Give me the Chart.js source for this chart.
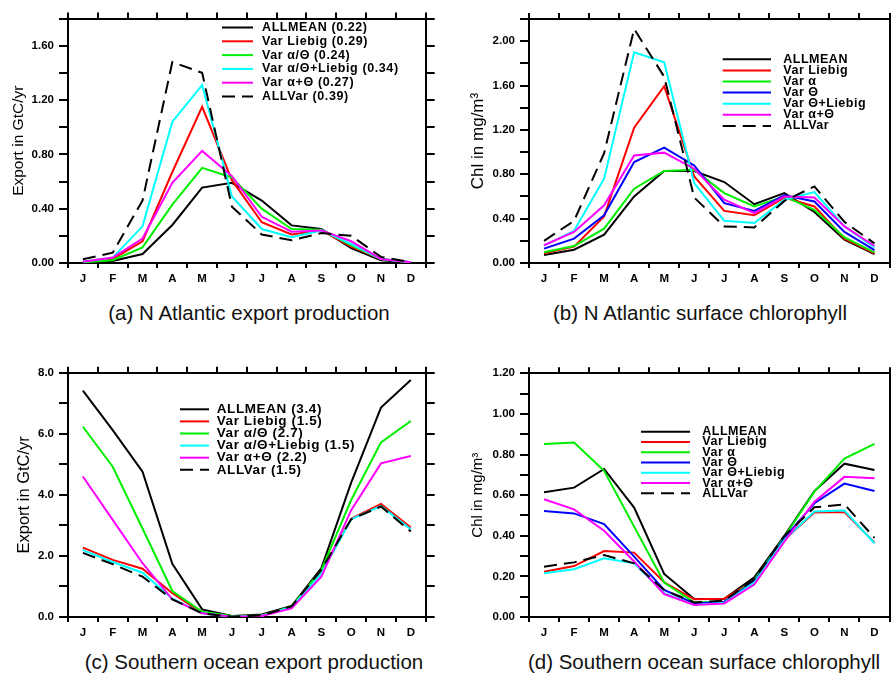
<!DOCTYPE html>
<html>
<head>
<meta charset="utf-8">
<script src="https://cdn.jsdelivr.net/npm/chart.js@4"></script>
<style>
  html, body { margin: 0; padding: 0; background: #fff; }
  body { width: 891px; height: 674px; position: relative; overflow: hidden; }
  canvas { position: absolute; }
  .ttl { position: absolute; font-family: "Liberation Sans", Arial, sans-serif; font-size: 20.5px; line-height: 24px; color: #111; text-align: center; white-space: nowrap; width: 440px; }
</style>
</head>
<body>
<canvas id="ca" width="445" height="300" style="left:0;top:0"></canvas>
<canvas id="cb" width="446" height="300" style="left:445px;top:0"></canvas>
<canvas id="cc" width="445" height="300" style="left:0;top:340px"></canvas>
<canvas id="cd" width="446" height="300" style="left:445px;top:340px"></canvas>
<div class="ttl" style="left:29px;top:301px">(a) N Atlantic export production</div>
<div class="ttl" style="left:480px;top:301px">(b) N Atlantic surface chlorophyll</div>
<div class="ttl" style="left:34px;top:650px">(c) Southern ocean export production</div>
<div class="ttl" style="left:484px;top:650px">(d) Southern ocean surface chlorophyll</div>
<script>
const months = ['J','F','M','A','M','J','J','A','S','O','N','D'];

// (a) N Atlantic export production (GtC/yr)
const aLabels = ['ALLMEAN (0.22)', 'Var Liebig (0.29)', 'Var α/Θ (0.24)', 'Var α/Θ+Liebig (0.34)', 'Var α+Θ (0.27)', 'ALLVar (0.39)'];
const aAllmean          = [0.010, 0.015, 0.066, 0.28, 0.555, 0.59, 0.46, 0.277, 0.25, 0.11, 0.02, 0.005];
const aLiebig           = [0.005, 0.030, 0.160, 0.67, 1.150, 0.61, 0.30, 0.210, 0.24, 0.12, 0.03, 0.005];
const aAlphaTheta       = [0.005, 0.020, 0.115, 0.43, 0.700, 0.63, 0.40, 0.250, 0.245, 0.13, 0.03, 0.005];
const aAlphaThetaLiebig = [0.010, 0.040, 0.270, 1.04, 1.310, 0.49, 0.25, 0.190, 0.24, 0.14, 0.03, 0.005];
const aAlphaPlusTheta   = [0.010, 0.040, 0.180, 0.59, 0.825, 0.64, 0.34, 0.230, 0.24, 0.16, 0.03, 0.005];
const aAllvar           = [0.027, 0.076, 0.460, 1.48, 1.400, 0.415, 0.21, 0.167, 0.22, 0.20, 0.045, 0.007];

// (b) N Atlantic surface chlorophyll (mg/m3)
const bLabels = ['ALLMEAN', 'Var Liebig', 'Var α', 'Var Θ', 'Var Θ+Liebig', 'Var α+Θ', 'ALLVar'];
const bAllmean        = [0.072, 0.12, 0.255, 0.60, 0.83, 0.83, 0.73, 0.53, 0.63, 0.46, 0.21, 0.08];
const bLiebig         = [0.087, 0.147, 0.42, 1.22, 1.595, 0.78, 0.47, 0.43, 0.59, 0.51, 0.22, 0.087];
const bAlpha          = [0.096, 0.153, 0.31, 0.67, 0.83, 0.84, 0.63, 0.51, 0.60, 0.48, 0.23, 0.096];
const bTheta          = [0.13, 0.22, 0.43, 0.91, 1.04, 0.88, 0.54, 0.47, 0.61, 0.555, 0.28, 0.117];
const bThetaLiebig    = [0.156, 0.29, 0.76, 1.90, 1.81, 0.72, 0.38, 0.36, 0.57, 0.64, 0.33, 0.14];
const bAlphaPlusTheta = [0.16, 0.28, 0.52, 0.97, 0.995, 0.85, 0.57, 0.45, 0.60, 0.59, 0.33, 0.153];
const bAllvar         = [0.20, 0.38, 0.99, 2.11, 1.68, 0.59, 0.33, 0.32, 0.56, 0.69, 0.37, 0.177];

// (c) Southern ocean export production (GtC/yr)
const cLabels = ['ALLMEAN (3.4)', 'Var Liebig (1.5)', 'Var α/Θ (2.7)', 'Var α/Θ+Liebig (1.5)', 'Var α+Θ (2.2)', 'ALLVar (1.5)'];
const cAllmean          = [7.41, 6.12, 4.76, 1.74, 0.25, 0.03, 0.08, 0.36, 1.60, 4.40, 6.86, 7.76];
const cLiebig           = [2.27, 1.87, 1.58, 0.78, 0.14, 0.01, 0.04, 0.33, 1.50, 3.22, 3.70, 2.93];
const cAlphaTheta       = [6.23, 4.92, 2.90, 0.85, 0.17, 0.03, 0.05, 0.34, 1.54, 3.83, 5.72, 6.42];
const cAlphaThetaLiebig = [2.19, 1.80, 1.45, 0.60, 0.12, 0.01, 0.04, 0.32, 1.43, 3.20, 3.64, 2.87];
const cAlphaPlusTheta   = [4.60, 3.18, 1.76, 0.58, 0.12, 0.01, 0.03, 0.28, 1.32, 3.50, 5.03, 5.27];
const cAllvar           = [2.10, 1.73, 1.32, 0.58, 0.12, 0.01, 0.05, 0.35, 1.55, 3.20, 3.62, 2.80];

// (d) Southern ocean surface chlorophyll (mg/m3)
const dLabels = ['ALLMEAN', 'Var Liebig', 'Var α', 'Var Θ', 'Var Θ+Liebig', 'Var α+Θ', 'ALLVar'];
const dAllmean        = [0.614, 0.637, 0.729, 0.539, 0.212, 0.089, 0.089, 0.195, 0.400, 0.620, 0.755, 0.724];
const dLiebig         = [0.223, 0.251, 0.325, 0.317, 0.171, 0.087, 0.090, 0.179, 0.380, 0.514, 0.517, 0.366];
const dAlpha          = [0.852, 0.859, 0.720, 0.445, 0.170, 0.072, 0.075, 0.182, 0.395, 0.617, 0.780, 0.852];
const dTheta          = [0.522, 0.510, 0.458, 0.297, 0.133, 0.067, 0.075, 0.174, 0.388, 0.560, 0.657, 0.620];
const dThetaLiebig    = [0.215, 0.235, 0.289, 0.264, 0.117, 0.059, 0.070, 0.169, 0.380, 0.519, 0.524, 0.363];
const dAlphaPlusTheta = [0.580, 0.530, 0.425, 0.273, 0.113, 0.059, 0.067, 0.160, 0.371, 0.568, 0.690, 0.683];
const dAllvar         = [0.248, 0.269, 0.305, 0.264, 0.133, 0.072, 0.080, 0.186, 0.399, 0.540, 0.555, 0.390];

const DASH = [13, 7];
const C = { black: '#000000', red: '#ff0000', green: '#00ee00', cyan: '#00ffff', magenta: '#ff00ff', blue: '#0000ff' };

function ds(label, data, color, dash) {
  return { label, data, borderColor: color, borderWidth: 2, borderDash: dash || [], pointRadius: 0, pointHoverRadius: 0, fill: false, tension: 0 };
}

const legendPlugin = {
  id: 'inLegend',
  afterDraw(chart, args, o) {
    const ctx = chart.ctx;
    ctx.save();
    ctx.font = o.font;
    if ('letterSpacing' in ctx) ctx.letterSpacing = o.spacing || '0px';
    ctx.textBaseline = 'middle';
    ctx.textAlign = 'left';
    chart.data.datasets.forEach((d, i) => {
      const y = o.y0 + i * o.step;
      ctx.strokeStyle = d.borderColor;
      ctx.lineWidth = 2;
      ctx.setLineDash(d.borderDash || []);
      ctx.beginPath(); ctx.moveTo(o.x1, y); ctx.lineTo(o.x2, y); ctx.stroke();
      ctx.setLineDash([]);
      ctx.fillStyle = '#000';
      ctx.fillText(d.label, o.tx, y);
    });
    ctx.restore();
  }
};

function fixed(size) { return function (s) { if (s.isHorizontal()) s.height = size; else s.width = size; }; }

function makeChart(id, p) {
  const n = p.datasets.length;
  p.datasets.forEach((d, i) => { d.order = n - i; });
  const tickFont = { family: 'Liberation Sans', size: 11.5, weight: 'bold' };
  const grid = (len) => ({ display: true, drawOnChartArea: false, drawTicks: true, tickLength: len, lineWidth: 2, color: '#000', offset: true });
  const border = { display: true, width: 2, color: '#000' };
  const yTicks = (show) => ({
    display: show, stepSize: p.step, maxTicksLimit: 100, autoSkip: false, padding: 5, color: '#000', font: tickFont,
    callback: (v) => { const r = v / p.labelEvery; return Math.abs(r - Math.round(r)) < 1e-6 ? v.toFixed(p.dec) : ''; }
  });
  return new Chart(document.getElementById(id), {
    type: 'line',
    data: { labels: months, datasets: p.datasets },
    plugins: [legendPlugin],
    options: {
      responsive: false, animation: false, devicePixelRatio: 1,
      layout: { padding: 0, autoPadding: false },
      plugins: { legend: { display: false }, tooltip: { enabled: false }, inLegend: p.legend },
      scales: {
        x: { type: 'category', position: 'bottom', offset: true, grid: grid(5), border,
             ticks: { color: '#000', font: tickFont, padding: 4, maxRotation: 0, autoSkip: false },
             afterFit: fixed(p.bottom) },
        x2: { type: 'category', position: 'top', offset: true, grid: grid(6), border,
              ticks: { display: false }, afterFit: fixed(p.top) },
        y: { type: 'linear', position: 'left', min: 0, max: p.max, grid: Object.assign(grid(9), { offset: false }), border,
             ticks: yTicks(true),
             title: { display: true, text: p.ytitle, color: '#000', font: { family: 'Liberation Sans', size: p.ytSize }, padding: { top: p.ytPad, bottom: 0 } },
             afterFit: fixed(p.left) },
        y2: { type: 'linear', position: 'right', min: 0, max: p.max, grid: Object.assign(grid(9), { offset: false }), border,
              ticks: Object.assign(yTicks(false), { display: false }), afterFit: fixed(p.right) }
      }
    }
  });
}

makeChart('ca', {
  datasets: [
    ds(aLabels[0], aAllmean, C.black), ds(aLabels[1], aLiebig, C.red), ds(aLabels[2], aAlphaTheta, C.green),
    ds(aLabels[3], aAlphaThetaLiebig, C.cyan), ds(aLabels[4], aAlphaPlusTheta, C.magenta), ds(aLabels[5], aAllvar, C.black, DASH)
  ],
  max: 1.8, step: 0.2, labelEvery: 0.4, dec: 2,
  ytitle: 'Export in GtC/yr', ytSize: 15.5, ytPad: 9,
  left: 68, right: 19.3, top: 18.5, bottom: 37,
  legend: { x1: 222, x2: 253, tx: 262, y0: 27.5, step: 13.8, font: 'bold 12.5px "Liberation Sans"', spacing: '0.6px' }
});

makeChart('cb', {
  datasets: [
    ds(bLabels[0], bAllmean, C.black), ds(bLabels[1], bLiebig, C.red), ds(bLabels[2], bAlpha, C.green),
    ds(bLabels[3], bTheta, C.blue), ds(bLabels[4], bThetaLiebig, C.cyan), ds(bLabels[5], bAlphaPlusTheta, C.magenta),
    ds(bLabels[6], bAllvar, C.black, DASH)
  ],
  max: 2.2, step: 0.2, labelEvery: 0.4, dec: 2,
  ytitle: 'Chl in mg/m³', ytSize: 17, ytPad: 23,
  left: 84, right: 1.5, top: 19, bottom: 37,
  legend: { x1: 277.7, x2: 326, tx: 338.3, y0: 59.3, step: 11.1, font: 'bold 12.5px "Liberation Sans"', spacing: '0.5px' }
});

makeChart('cc', {
  datasets: [
    ds(cLabels[0], cAllmean, C.black), ds(cLabels[1], cLiebig, C.red), ds(cLabels[2], cAlphaTheta, C.green),
    ds(cLabels[3], cAlphaThetaLiebig, C.cyan), ds(cLabels[4], cAlphaPlusTheta, C.magenta), ds(cLabels[5], cAllvar, C.black, DASH)
  ],
  max: 8, step: 1, labelEvery: 2, dec: 1,
  ytitle: 'Export in GtC/yr', ytSize: 16.5, ytPad: 15,
  left: 68, right: 19.3, top: 32.7, bottom: 23,
  legend: { x1: 180, x2: 209, tx: 216.7, y0: 69.3, step: 12.1, font: 'bold 13.5px "Liberation Sans"', spacing: '0.6px' }
});

makeChart('cd', {
  datasets: [
    ds(dLabels[0], dAllmean, C.black), ds(dLabels[1], dLiebig, C.red), ds(dLabels[2], dAlpha, C.green),
    ds(dLabels[3], dTheta, C.blue), ds(dLabels[4], dThetaLiebig, C.cyan), ds(dLabels[5], dAlphaPlusTheta, C.magenta),
    ds(dLabels[6], dAllvar, C.black, DASH)
  ],
  max: 1.2, step: 0.1, labelEvery: 0.2, dec: 2,
  ytitle: 'Chl in mg/m³', ytSize: 15, ytPad: 24,
  left: 84, right: 1.5, top: 33.3, bottom: 23,
  legend: { x1: 196, x2: 245, tx: 257.3, y0: 91.7, step: 10.27, font: 'bold 12.5px "Liberation Sans"', spacing: '0.5px' }
});
</script>
</body>
</html>
